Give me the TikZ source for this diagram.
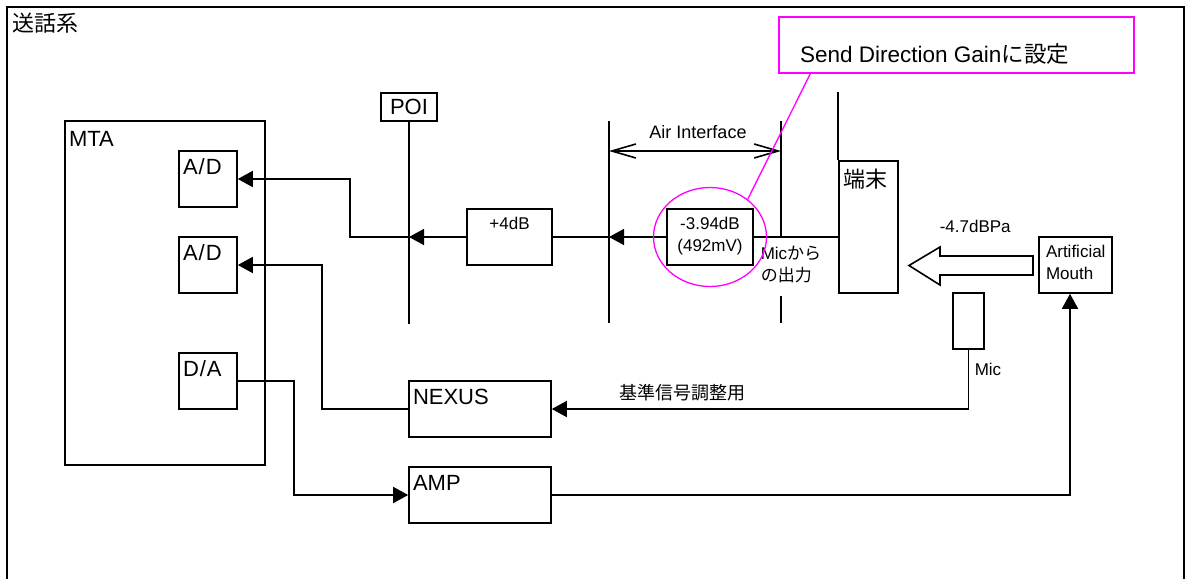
\documentclass[tikz,border=0pt]{standalone}
\usepackage{fontspec}
\setmainfont{Liberation Sans}
\newfontfamily\jpfont{Noto Sans CJK JP}
\usetikzlibrary{shapes.geometric,arrows.meta}
\definecolor{notecol}{RGB}{255,0,255}

\begin{document}
\begin{tikzpicture}[
  x=1pt, y=-1pt,
  line width=1.6pt,
  blk/.style={rectangle, draw, inner sep=0pt},
  intxt/.style={inner xsep=4pt, inner ysep=8pt},
  bigfont/.style={font=\fontsize{22}{26}\selectfont},
  midfont/.style={font=\fontsize{17}{22}\selectfont},
  sig/.style={-{Triangle[length=15pt,width=16pt]}},
  barb/.style={{Straight Barb[length=24pt,width=14pt]}-{Straight Barb[length=24pt,width=14pt]}},
  hl/.style={draw=notecol, line width=1.3pt},
]

% === Frame ===
\useasboundingbox (0,0) rectangle (1186,579);
\draw (7,579) -- (7,7) -- (1184,7) -- (1184,579);
\node[bigfont, anchor=base west, inner sep=0pt] (title) at (12,31) {\jpfont 送話系};

% === MTA ===
\node[blk, minimum width=200pt, minimum height=344pt, label={[bigfont, intxt, anchor=north west, inner ysep=10pt]north west:MTA}] (mta) at (165,293) {};
\node[blk, minimum width=58pt, minimum height=56pt, label={[bigfont, intxt, anchor=north west]north west:A\kern1pt/\kern1pt D}] (ad1) at (208,179) {};
\node[blk, minimum width=58pt, minimum height=56pt, label={[bigfont, intxt, anchor=north west]north west:A\kern1pt/\kern1pt D}] (ad2) at (208,265) {};
\node[blk, minimum width=58pt, minimum height=56pt, label={[bigfont, intxt, anchor=north west]north west:D\kern1pt/\kern1pt A}] (da) at (208,381) {};

% === Send path ===
\node[blk, bigfont, minimum width=56pt, minimum height=28pt] (poi) at (409,107) {POI};
\node[blk, minimum width=85pt, minimum height=56pt, label={[midfont, intxt, anchor=north]north:+4dB}] (gain4) at (509.5,237) {};
\node[blk, minimum width=86pt, minimum height=56pt, label={[midfont, intxt, anchor=north, align=center]north:-3.94dB\\(492mV)}] (gain394) at (710,237) {};
\node[blk, minimum width=59pt, minimum height=132pt, label={[bigfont, intxt, anchor=north west]north west:\jpfont 端末}] (term) at (868.5,227) {};
\node[blk, minimum width=73pt, minimum height=56pt, label={[midfont, intxt, anchor=north west, align=left, xshift=3pt]north west:Artificial\\Mouth}] (mouth) at (1075.5,265) {};
\node[blk, minimum width=31pt, minimum height=56pt] (mic) at (968.5,321) {};
\node[blk, minimum width=142pt, minimum height=56pt, label={[bigfont, intxt, anchor=north west]north west:NEXUS}] (nexus) at (480,409) {};
\node[blk, minimum width=142pt, minimum height=56pt, label={[bigfont, intxt, anchor=north west]north west:AMP}] (amp) at (480,495) {};

% air interface
\coordinate (airL) at (609,121);
\coordinate (airR) at (781,121);
\coordinate (airRlow) at (781,296);
\coordinate (aiL) at (609,151);
\coordinate (aiR) at (781,151);
\draw (airL) -- ++(0,202);
\draw (airR) -- (airR |- gain394.east);
\draw (airRlow) -- ++(0,27);
\draw[barb] (aiL) -- (aiR);
\node[font=\fontsize{18}{22}\selectfont, anchor=base, inner sep=0pt] (airlbl) at (698,138) {Air Interface};

\draw (poi.south) -- ++(0,202);
\draw (term.north west) -- ++(0,-68);

\draw (term.west |- gain394.east) -- (gain394.east);
\draw[sig] (gain394.west) -- (airL |- gain394.west);
\draw (airL |- gain394.west) -- (gain4.east);
\draw[sig] (gain4.west) -- (poi |- gain4.west);
\draw[sig] (poi |- gain4.west) -- ++(-59,0) |- (ad1.east);

\draw[sig] (nexus.west) -- ++(-86,0) |- (ad2.east);
\draw[sig] (da.east) -- ++(56,0) |- (amp.west);
\draw[sig] (amp.east) -| ([xshift=-5.5pt]mouth.south);
\draw[sig] (mic.south) |- (nexus.east);

% sound from mouth
\draw[fill=white] (1033,256) -- (940,256) -- (940,247) -- (909,265.5) -- (940,285) -- (940,275) -- (1033,275) -- cycle;

\node[midfont, anchor=base west, inner sep=0pt] (pa) at (939,232) {-4.7dBPa};
\node[midfont, anchor=base west, inner sep=0pt] (miclbl) at (974,375) {Mic};
\node[font=\fontsize{18}{22}\selectfont, anchor=base west, inner sep=0pt] (refsig) at (619,399) {\jpfont 基準信号調整用};
\node[midfont, anchor=north west, align=left, inner sep=0pt] (micout) at (760,245) {Mic{\jpfont から}\\{\jpfont の出力}};

% === Annotation ===
\node[blk, hl, minimum width=355pt, minimum height=56pt, label={[font=\fontsize{22.5}{26}\selectfont, anchor=base west, xshift=21pt, yshift=11pt, inner sep=0pt]south west:Send Direction Gain{\jpfont に設定}}] (note) at (956.5,45) {};
\node[ellipse, hl, minimum width=113pt, minimum height=99pt, inner sep=0pt] (ring) at (gain394) {};
\draw[hl] ([xshift=32pt]note.south west) -- (ring.45);

\end{tikzpicture}
\end{document}
